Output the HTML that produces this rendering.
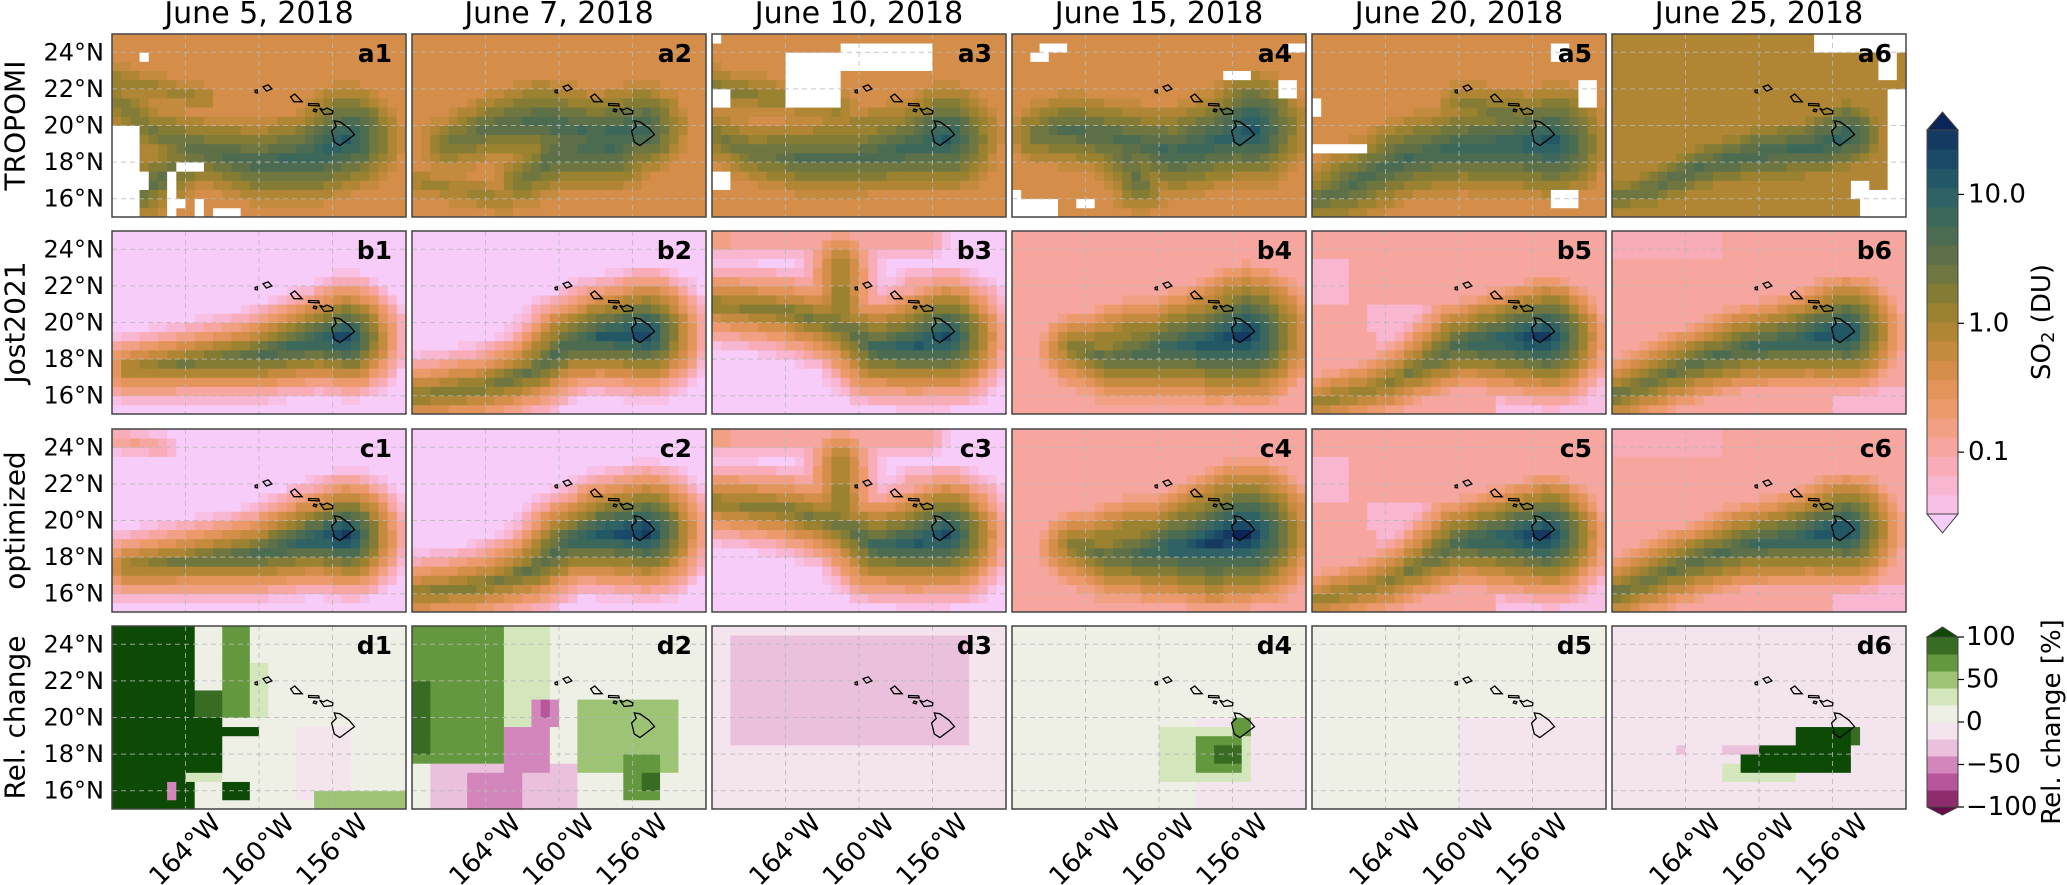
<!DOCTYPE html>
<html><head><meta charset="utf-8">
<style>
html,body{margin:0;padding:0;background:#fff;}
svg{display:block;font-family:"DejaVu Sans","Liberation Sans",sans-serif;}
</style></head>
<body>
<svg id="fig" width="2067" height="885" viewBox="0 0 2067 885" xmlns="http://www.w3.org/2000/svg"></svg>
<script>
// ---- data ----
const columnTitles = ["June 5, 2018","June 7, 2018","June 10, 2018","June 15, 2018","June 20, 2018","June 25, 2018"];
const rowTitles = ["TROPOMI","Jost2021","optimized","Rel. change"];
const rowLetters = ["a","b","c","d"];
const latTicks = [24,22,20,18,16];
const lonTicks = [-164,-160,-156];
const lonTickLabels = ["164°W","160°W","156°W"];
const so2Ticks = [10,1,0.1];
const so2TickLabels = ["10.0","1.0","0.1"];
const relTicks = [100,50,0,-50,-100];
const relTickLabels = ["100","50","0","\u221250","\u2212100"];
const so2Colors = ["#f8c0e4","#f8b6d0","#f8acb8","#f6a69e","#f2a084","#ec9a6c","#e2945a","#d48e4a","#c48a3e","#b08634","#9a8230","#847c34","#707640","#5e7048","#4c6c52","#3c685c","#2e6264","#225866","#1a4a68","#143a62"];
const relColors = ["#8e2c6c","#b8569c","#d286bc","#eac0dc","#f4e4ee","#eef0e6","#d4e6bc","#9cc474","#64983e","#386c22"];

// plume centre-lines: [lon, lat, log10(SO2 DU)]
const a1Lines=[[[-155.2,19.3,1.1],[-157,18.3,0.9],[-160,18,0.75],[-163,18.6,0.6],[-166,19.8,0.35],[-168,21.5,0.3]],[[-163,18.5,0.45],[-166.5,16.5,0.55]],[[-168,22.5,0.15],[-163,21.5,0.05]]];
const a1Gaps=[[-168,15,-166.7,19.8],[-166.7,16.5,-166,17.5],[-165,15,-164.3,17.3],[-164.6,17.3,-163.2,18.2],[-163.5,15,-162.8,15.8],[-162.5,15,-161,15.5],[-164.3,15.5,-163.8,16.2],[-166.3,23.6,-165.8,24.1],[-163.7,23,-163.3,23.5]];
const a2Lines=[[[-155.5,19.8,0.9],[-158,19.5,0.8],[-161,20.3,0.75],[-164,19.8,0.55],[-166,19,0.4]],[[-157,18.7,0.8],[-160,18.5,0.65],[-162,17,0.4]],[[-168,17,0.05],[-163,16,0.1]]];
const a3Lines=[[[-155.3,19.3,1.1],[-157,18.8,0.85],[-160,18.3,0.65],[-163,18.2,0.65],[-166,18.6,0.45],[-168,19.5,0.3]],[[-168,22,0.3],[-164,21.5,0.15],[-161,21,0.15]],[[-162,19.5,0.2],[-158,20.5,0.1]]];
const a3Gaps=[[-164.2,21.2,-160.8,23.8],[-161,23.2,-156.2,24.3],[-167.9,20.8,-167.2,21.8],[-167.8,16.5,-167.2,17.5],[-168,24.4,-167.5,25]];
const a4Lines=[[[-155,19.8,1.2],[-156.5,19.3,0.95],[-159,18.5,0.85],[-162,19.3,0.65],[-165,19.8,0.65],[-166.5,19.5,0.5]],[[-162,18.5,0.55],[-161,16.8,0.45]]];
const a4Gaps=[[-168,15,-165.6,15.9],[-168,15.9,-167.5,16.6],[-164.3,15.4,-163.6,16.1],[-167.2,23.3,-165.8,24.1],[-166.3,23.8,-165.2,24.4],[-153.5,21.5,-152.3,22.5],[-152.8,23.9,-152,24.6],[-156.4,22.3,-155,23]];
const a5Lines=[[[-155,19.1,1.2],[-157,18.9,0.95],[-160,18.8,0.85],[-163,18.2,0.75],[-166,16.7,0.65],[-167.5,16,0.5]],[[-157,20.5,0.45],[-160,21.3,0.2]]];
const a5Gaps=[[-168,18.5,-164.8,18.9],[-153.5,21.1,-152.5,22.5],[-155,23.6,-154.2,24.3],[-158.5,16.3,-157.5,16.7],[-155,15.6,-153.3,16.3],[-168,20.6,-167.6,21.6]];
const a6Lines=[[[-155.2,19.5,1.0],[-157,18.8,0.85],[-160,18.5,0.75],[-163,17.8,0.65],[-166,16.5,0.5],[-168,16,0.4]]];
const a6Gaps=[[-152.9,15,-152,21.8],[-154.5,15,-152.9,16.5],[-155,15.8,-154,17],[-156.8,24,-152,25],[-153.5,22.5,-152.5,24]];
const b1Lines=[[[-155.3,19.2,1.4],[-157,19,1.0],[-160,18.2,0.65],[-164,17.8,0.35],[-167,17.5,0.15]]];
const c1Lines=[[[-155.3,19.2,1.5],[-157,19,1.1],[-160,18.2,0.7],[-164,17.8,0.4],[-167,17.5,0.2]],[[-168,24.5,-0.8],[-165,24,-0.9]]];
const b2Lines=[[[-155.3,19.4,1.4],[-157.5,19.3,1.1],[-159.5,18.8,0.8],[-161.5,17.3,0.5],[-164,16.5,0.35],[-168,16,0.25]]];
const c2Lines=[[[-155.3,19.4,1.5],[-157.5,19.3,1.2],[-159.5,18.8,0.85],[-161.5,17.3,0.5],[-164,16.5,0.3],[-168,16,0.2]]];
const b3Lines=[[[-155.3,19.2,1.35],[-157,18.8,1.1],[-159,18.6,0.85],[-161,19.8,0.45],[-164,20.6,0.3],[-168,21,0.2]],[[-161,19.8,0.35],[-161,23.5,0.1]],[[-168,24.5,-0.7],[-156,24.5,-0.8]],[[-157,22,-0.7],[-155,22,-0.8]]];
const b4Lines=[[[-155.3,19.3,1.5],[-157,18.9,1.2],[-160,18.6,0.85],[-162.5,18,0.55],[-164.5,18.6,0.35]],[[-164.5,18.6,0.15],[-162,19.5,0.15],[-157,20,0.15]]];
const c4Lines=[[[-155.3,19.3,1.6],[-157,18.8,1.4],[-160,18.4,0.95],[-162.5,18,0.55],[-164.5,18.6,0.35]],[[-164.5,18.6,0.15],[-162,19.5,0.15],[-157,20,0.15]]];
const b5Lines=[[[-155.3,19.2,1.5],[-158,19,1.05],[-160,18.8,0.75],[-162,17.6,0.4],[-164,16.6,0.2],[-168,15.6,0.1]]];
const b5Lows=[[-165,19.5,-161.5,21.2,-1.3],[-164.5,18.5,-163,19.5,-1.3],[-158,15,-152,17,-1.4],[-168,21,-166,23.5,-1.2]];
const b6Lines=[[[-155.3,19.5,1.35],[-158,19,0.95],[-161,18.6,0.75],[-164,17.6,0.55],[-168,16,0.4]]];
const b6Lows=[[-156,15,-152,16.5,-1.3],[-168,23.5,-162,25,-1.1]];
// relative change regions: [lon0, lat0, lon1, lat1, percent]
const d1Regions=[[-168,15,-163.5,25,150],[-163.5,17,-162,21.5,150],[-163.5,18.8,-160,19.3,150],[-162,20,-160.5,25,70],[-163.5,20,-162,21.5,90],[-160.5,20,-159.5,23,30],[-158,15.5,-155,19.5,-10],[-157,15,-152,16,50],[-162,15.5,-160.5,16.5,150],[-165,15.5,-164.5,16.5,-50],[-164,16.5,-162,17,30]];
const d2Regions=[[-168,17.5,-163,25,70],[-168,18,-167,22,90],[-163,18,-160.5,25,30],[-167,15,-159,17.5,-30],[-165,15,-162,17,-50],[-163,17,-160.5,19.5,-50],[-161.5,19.5,-160,21,-50],[-161,20.2,-160.5,20.8,-70],[-159,17,-153.5,21,40],[-156.5,15.5,-154.5,18,70],[-155.5,16,-154.5,17,90]];
const d3Regions=[[-167,18.5,-154,24.5,-25]];
const d4Regions=[[-158,15,-152,20,-5],[-160,16.5,-155,19.5,30],[-158,17,-155.5,19,70],[-157,17.5,-155.5,18.5,90],[-156,19,-155,20,70]];
const d5Regions=[[-160,15,-152,20,-5],[-168,15,-160,25,5]];
const d6Regions=[[-162,16.5,-158,17.5,30],[-161,16.8,-155,18.5,150],[-158,17.5,-155,19.5,150],[-155,18.5,-154.5,19.5,80],[-162,18,-160,18.5,-30],[-164.5,18,-164,18.5,-30]];

const mapPanels = [
 {id:"a1",bg:-0.35,k:0.45,lines:a1Lines,gaps:a1Gaps,lows:[]},
 {id:"a2",bg:-0.3,k:0.45,lines:a2Lines,gaps:[],lows:[]},
 {id:"a3",bg:-0.35,k:0.45,lines:a3Lines,gaps:a3Gaps,lows:[]},
 {id:"a4",bg:-0.3,k:0.45,lines:a4Lines,gaps:a4Gaps,lows:[]},
 {id:"a5",bg:-0.35,k:0.45,lines:a5Lines,gaps:a5Gaps,lows:[]},
 {id:"a6",bg:-0.1,k:0.55,lines:a6Lines,gaps:a6Gaps,lows:[]},
 {id:"b1",bg:-1.6,k:0.8,lines:b1Lines,gaps:[],lows:[]},
 {id:"b2",bg:-1.6,k:0.75,lines:b2Lines,gaps:[],lows:[]},
 {id:"b3",bg:-1.5,k:0.7,lines:b3Lines,gaps:[],lows:[]},
 {id:"b4",bg:-0.95,k:0.6,lines:b4Lines,gaps:[],lows:[]},
 {id:"b5",bg:-0.95,k:0.7,lines:b5Lines,gaps:[],lows:b5Lows},
 {id:"b6",bg:-0.9,k:0.7,lines:b6Lines,gaps:[],lows:b6Lows},
 {id:"c1",bg:-1.6,k:0.8,lines:c1Lines,gaps:[],lows:[]},
 {id:"c2",bg:-1.6,k:0.75,lines:c2Lines,gaps:[],lows:[]},
 {id:"c3",bg:-1.5,k:0.7,lines:b3Lines,gaps:[],lows:[]},
 {id:"c4",bg:-0.95,k:0.6,lines:c4Lines,gaps:[],lows:[]},
 {id:"c5",bg:-0.95,k:0.7,lines:b5Lines,gaps:[],lows:b5Lows},
 {id:"c6",bg:-0.9,k:0.7,lines:b6Lines,gaps:[],lows:b6Lows}
];
const relPanels = [
 {id:"d1",bg:5,regions:d1Regions},{id:"d2",bg:5,regions:d2Regions},{id:"d3",bg:-5,regions:d3Regions},
 {id:"d4",bg:5,regions:d4Regions},{id:"d5",bg:5,regions:d5Regions},{id:"d6",bg:-5,regions:d6Regions}
];
const islands = [
 [[-155.9,20.25],[-155.8,19.95],[-156.05,19.7],[-155.9,19.1],[-155.6,18.9],[-155.2,19.2],[-154.8,19.5],[-155.1,19.85],[-155.6,20.2]],
 [[-156.7,20.95],[-156.45,20.6],[-156.0,20.65],[-155.98,20.8],[-156.3,20.95],[-156.5,20.85]],
 [[-157.3,21.2],[-156.75,21.18],[-156.72,21.07],[-157.3,21.1]],
 [[-157.0,20.9],[-156.85,20.85],[-156.9,20.75],[-157.05,20.8]],
 [[-158.28,21.57],[-158.05,21.72],[-157.65,21.3],[-158.1,21.3]],
 [[-159.78,22.12],[-159.5,22.22],[-159.3,22.0],[-159.6,21.88]],
 [[-160.22,21.92],[-160.1,21.95],[-160.08,21.78],[-160.2,21.8]]
];

// ---- layout ----
const NS="http://www.w3.org/2000/svg";
const svg=document.getElementById("fig");
const PX0=112, PW=294, PSTEP=300;
const PY=[34,231,429,626], PH=183;
const LON0=-168, LON1=-152, LAT0=15, LAT1=25;
function mk(tag,attrs,parent){const e=document.createElementNS(NS,tag);for(const k in attrs)e.setAttribute(k,attrs[k]);(parent||svg).appendChild(e);return e;}
function xOf(col,lon){return PX0+col*PSTEP+(lon-LON0)/(LON1-LON0)*PW;}
function yOf(row,lat){return PY[row]+(LAT1-lat)/(LAT1-LAT0)*PH;}
function so2Color(v){const lo=-1.48, step=0.149;if(v<lo)return "#f8ccf8";const i=Math.floor((v-lo)/step);if(i>=so2Colors.length)return "#0c2558";return so2Colors[i];}
function relColor(v){if(v>100)return "#0c4a06";if(v<-100)return "#6a0a4a";let i=Math.floor((v+100)/20);if(i>9)i=9;if(i<0)i=0;return relColors[i];}
function segVal(lon,lat,a,b,k){const dx=b[0]-a[0],dy=b[1]-a[1];const L=dx*dx+dy*dy;let t=L?((lon-a[0])*dx+(lat-a[1])*dy)/L:0;t=Math.max(0,Math.min(1,t));const px=a[0]+t*dx,py=a[1]+t*dy;const d=Math.hypot(lon-px,lat-py);return a[2]+(b[2]-a[2])*t-k*d;}
function inR(lon,lat,r){return lon>=r[0]&&lon<r[2]&&lat>=r[1]&&lat<r[3];}

function drawFrameStuff(row,col,label,g){
  const x0=PX0+col*PSTEP, y0=PY[row];
  const grid=mk("g",{},g);
  latTicks.forEach(l=>{mk("line",{x1:x0,x2:x0+PW,y1:yOf(row,l),y2:yOf(row,l),stroke:"#b8b8b8","stroke-width":1,"stroke-dasharray":"5,4",opacity:0.8},grid);});
  lonTicks.forEach(l=>{mk("line",{x1:xOf(col,l),x2:xOf(col,l),y1:y0,y2:y0+PH,stroke:"#b8b8b8","stroke-width":1,"stroke-dasharray":"5,4",opacity:0.8},grid);});
  const isl=mk("g",{},g);
  islands.forEach(poly=>{mk("polygon",{points:poly.map(p=>xOf(col,p[0]).toFixed(1)+","+yOf(row,p[1]).toFixed(1)).join(" "),fill:"none",stroke:"#000","stroke-width":1.3},isl);});
  mk("rect",{x:x0,y:y0,width:PW,height:PH,fill:"none",stroke:"#444","stroke-width":1.5},g);
  const t=mk("text",{x:x0+PW-14,y:y0+28,"text-anchor":"end","font-size":25,"font-weight":"bold",fill:"#000"},g);
  t.textContent=label;
  
  
}

const NX=32, NY=20, CW=0.5;
mapPanels.forEach((p,idx)=>{
  const row=Math.floor(idx/6), col=idx%6;
  const g=mk("g",{});
  
  
  for(let j=0;j<NY;j++)for(let i=0;i<NX;i++){
    const lon=LON0+(i+0.5)*CW, lat=LAT0+(j+0.5)*CW;
    let fill;
    if(p.gaps.some(r=>inR(lon,lat,r))){fill="#ffffff";}
    else{
      let v=p.bg;
      p.lows.forEach(r=>{if(inR(lon,lat,r))v=r[4];});
      p.lines.forEach(L=>{for(let s=0;s<L.length-1;s++){v=Math.max(v,segVal(lon,lat,L[s],L[s+1],p.k));}});
      fill=so2Color(v);
    }
    const x=xOf(col,LON0+i*CW), y=yOf(row,LAT0+(j+1)*CW);
    const c=mk("rect",{x:x.toFixed(2),y:y.toFixed(2),width:(PW/NX+0.4).toFixed(2),height:(PH/NY+0.4).toFixed(2),fill:fill},g);
    
    
  }
  drawFrameStuff(row,col,p.id,g);
});
relPanels.forEach((p,col)=>{
  const row=3;
  const g=mk("g",{});
  
  
  for(let j=0;j<NY;j++)for(let i=0;i<NX;i++){
    const lon=LON0+(i+0.5)*CW, lat=LAT0+(j+0.5)*CW;
    let v=p.bg;
    p.regions.forEach(r=>{if(inR(lon,lat,r))v=r[4];});
    const x=xOf(col,LON0+i*CW), y=yOf(row,LAT0+(j+1)*CW);
    const c=mk("rect",{x:x.toFixed(2),y:y.toFixed(2),width:(PW/NX+0.4).toFixed(2),height:(PH/NY+0.4).toFixed(2),fill:relColor(v)},g);
    
    
  }
  drawFrameStuff(row,col,p.id,g);
});

// titles
columnTitles.forEach((t,c)=>{
  const e=mk("text",{x:PX0+c*PSTEP+PW/2,y:23,"text-anchor":"middle","font-size":30,fill:"#000"});
  e.textContent=t;
  
  
});
rowTitles.forEach((t,r)=>{
  const cy=PY[r]+PH/2;
  const e=mk("text",{x:0,y:0,transform:"translate(15,"+cy+") rotate(-90)","text-anchor":"middle","dominant-baseline":"central","font-size":28,fill:"#000"});
  e.textContent=t;
  
  
  latTicks.forEach(l=>{
    const tl=mk("text",{x:104,y:yOf(r,l),"text-anchor":"end","dominant-baseline":"central","font-size":24,fill:"#000"});
    tl.textContent=l+"°N";
    
    
  });
});
for(let c=0;c<6;c++){
  lonTicks.forEach((l,i)=>{
    const x=xOf(c,l);
    const e=mk("text",{x:0,y:0,transform:"translate("+x+",850) rotate(-45)","text-anchor":"middle","dominant-baseline":"central","font-size":26,fill:"#000"});
    e.textContent=lonTickLabels[i];
    
    
  });
}

// SO2 colorbar
const CBX=1927, CBW=31, CBT=130, CBB=514;
const cb=mk("g",{});


const nb=so2Colors.length, bh=(CBB-CBT)/nb;
so2Colors.forEach((c,i)=>{mk("rect",{x:CBX,y:(CBB-(i+1)*bh).toFixed(2),width:CBW,height:(bh+0.5).toFixed(2),fill:c},cb);});
mk("polygon",{points:`${CBX},${CBT} ${CBX+CBW/2},${CBT-18} ${CBX+CBW},${CBT}`,fill:"#0c2558",stroke:"#444","stroke-width":1},cb);
mk("polygon",{points:`${CBX},${CBB} ${CBX+CBW/2},${CBB+19} ${CBX+CBW},${CBB}`,fill:"#f8ccf8",stroke:"#444","stroke-width":1},cb);
mk("rect",{x:CBX,y:CBT,width:CBW,height:CBB-CBT,fill:"none",stroke:"#444","stroke-width":1},cb);
function so2Y(v){return CBB-(Math.log10(v)+1.48)/(1.5+1.48)*(CBB-CBT);}
so2Ticks.forEach((v,i)=>{
  const y=so2Y(v);
  mk("line",{x1:CBX+CBW,x2:CBX+CBW+6,y1:y,y2:y,stroke:"#000","stroke-width":1.2},cb);
  const t=mk("text",{x:CBX+CBW+10,y:y,"dominant-baseline":"central","font-size":26,fill:"#000"},cb);
  t.textContent=so2TickLabels[i];
});
const cbl=mk("text",{x:0,y:0,transform:"translate(2042,322) rotate(-90)","text-anchor":"middle","dominant-baseline":"central","font-size":26,fill:"#000"});
cbl.innerHTML='SO<tspan font-size="18" dy="6">2</tspan><tspan dy="-6"> (DU)</tspan>';



// Rel change colorbar
const RT=637, RB=807;
const rc=mk("g",{});


const rbh=(RB-RT)/relColors.length;
relColors.forEach((c,i)=>{mk("rect",{x:CBX,y:(RB-(i+1)*rbh).toFixed(2),width:CBW,height:(rbh+0.5).toFixed(2),fill:c},rc);});
mk("polygon",{points:`${CBX},${RT} ${CBX+CBW/2},${RT-10} ${CBX+CBW},${RT}`,fill:"#0c4a06",stroke:"#444","stroke-width":1},rc);
mk("polygon",{points:`${CBX},${RB} ${CBX+CBW/2},${RB+8} ${CBX+CBW},${RB}`,fill:"#6a0a4a",stroke:"#444","stroke-width":1},rc);
mk("rect",{x:CBX,y:RT,width:CBW,height:RB-RT,fill:"none",stroke:"#444","stroke-width":1},rc);
relTicks.forEach((v,i)=>{
  const y=RB-(v+100)/200*(RB-RT);
  mk("line",{x1:CBX+CBW,x2:CBX+CBW+6,y1:y,y2:y,stroke:"#000","stroke-width":1.2},rc);
  const t=mk("text",{x:CBX+CBW+8,y:y,"dominant-baseline":"central","font-size":26,fill:"#000"},rc);
  t.textContent=relTickLabels[i];
});
const rl=mk("text",{x:0,y:0,transform:"translate(2052,722) rotate(-90)","text-anchor":"middle","dominant-baseline":"central","font-size":26,fill:"#000"});
rl.textContent="Rel. change [%]";


</script>
</body></html>
